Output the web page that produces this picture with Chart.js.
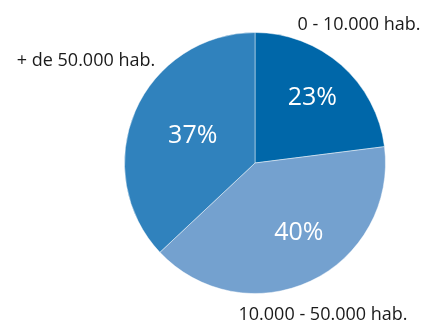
<!DOCTYPE html>
<html>
<head>
<meta charset="utf-8">
<script src="https://cdn.jsdelivr.net/npm/chart.js@4.4.1/dist/chart.umd.min.js"></script>
<style>
  html, body { margin: 0; padding: 0; background: #fff; }
  #wrap { width: 426px; height: 324px; position: relative; }
</style>
</head>
<body>
<div id="wrap"><canvas id="chart" width="426" height="324"></canvas></div>
<script>
const categories = ['0 - 10.000 hab.', '10.000 - 50.000 hab.', '+ de 50.000 hab.'];
const shares = [23, 40, 37];
const sliceColors = ['#0067a9', '#74a1cf', '#3082bd'];

// where each category name sits, and how the percentages are nudged inside their slice
const nameSpots = [
    {x: 359, y: 25},
    {x: 323, y: 315},
    {x: 86, y: 61}
];
const pctRadius = [0.665, 0.63, 0.52];
const pctTurn = [0, -7, 0];

const sliceText = {
    id: 'sliceText',
    afterDatasetsDraw(chart){
        const ctx = chart.ctx;
        const arcs = chart.getDatasetMeta(0).data;
        ctx.save();
        ctx.textAlign = 'center';
        ctx.textBaseline = 'middle';
        arcs.forEach((arc, i) => {
            const mid = (arc.startAngle + arc.endAngle) / 2 + pctTurn[i] * Math.PI / 180;
            const r = arc.outerRadius * pctRadius[i];
            ctx.fillStyle = '#ffffff';
            ctx.font = '25px "Open Sans", "Noto Sans", sans-serif';
            ctx.fillText(shares[i] + '%', arc.x + Math.cos(mid) * r, arc.y + Math.sin(mid) * r);

            ctx.fillStyle = '#1a1a1a';
            ctx.font = '18px "Open Sans", "Noto Sans", sans-serif';
            ctx.fillText(categories[i], nameSpots[i].x, nameSpots[i].y);
        });
        ctx.restore();
    }
};

new Chart(document.getElementById('chart'), {
    type: 'pie',
    data: {
        labels: categories,
        datasets: [{
            data: shares,
            backgroundColor: sliceColors,
            borderColor: 'rgba(255,255,255,0.45)',
            borderWidth: 1
        }]
    },
    options: {
        responsive: false,
        animation: false,
        layout: {
            padding: {left: 124, right: 40, top: 32, bottom: 30}
        },
        plugins: {
            legend: {display: false},
            tooltip: {enabled: false}
        }
    },
    plugins: [sliceText]
});
</script>
</body>
</html>
